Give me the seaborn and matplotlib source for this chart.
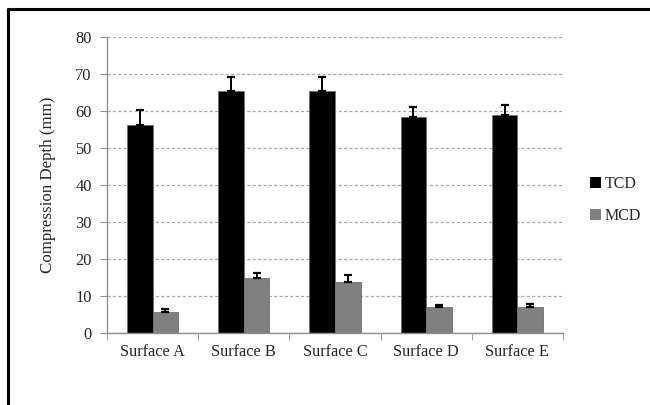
import matplotlib
matplotlib.use('Agg')
import matplotlib.pyplot as plt
from matplotlib.lines import Line2D
from matplotlib.patches import Patch
import numpy as np
import pandas as pd
import seaborn as sns

surfaces = ['Surface A', 'Surface B', 'Surface C', 'Surface D', 'Surface E']
tcd_mean = [56.3, 65.4, 65.4, 58.3, 58.8]
tcd_err = [3.9, 3.8, 3.8, 2.8, 2.8]
mcd_mean = [5.8, 14.9, 13.9, 6.9, 6.9]
mcd_err = [0.6, 1.4, 1.7, 0.8, 1.0]
series = ['TCD', 'MCD']
colors = {'TCD': '#000000', 'MCD': '#808080'}

df = pd.DataFrame({
    'surface': surfaces * 2,
    'series': ['TCD'] * 5 + ['MCD'] * 5,
    'depth': tcd_mean + mcd_mean,
    'err': tcd_err + mcd_err,
})

sns.set_style('white')
plt.rcParams['font.family'] = ['Liberation Serif', 'DejaVu Serif']

fig = plt.figure(figsize=(6.5, 4.05), dpi=100)
ax = fig.add_axes([0.1646, 0.1778, 0.7015, 0.7308])

sns.barplot(data=df, x='surface', y='depth', hue='series', hue_order=series,
            palette=colors, width=0.56, errorbar=None, edgecolor='#707070',
            linewidth=0.6, legend=False, ax=ax)

# error bars (upper half only) placed on the drawn bars
for container, name in zip(ax.containers, series):
    sub = df[df['series'] == name]
    xs = [p.get_x() + p.get_width() / 2 for p in container.patches]
    ax.errorbar(xs, sub['depth'].values, yerr=[np.zeros(len(xs)), sub['err'].values],
                fmt='none', ecolor='black', elinewidth=1.4, capsize=3.2, capthick=1.6, zorder=5)

ax.set_ylim(0, 80)
ax.set_xlim(-0.5, 4.5)
ax.set_yticks(range(0, 81, 10))
ax.yaxis.grid(True, linestyle=(0, (2.5, 1.8)), color='#a8a8a8', linewidth=0.9)
ax.set_axisbelow(True)
ax.set_xlabel('')
ax.set_ylabel('Compression Depth (mm)', fontsize=12.2, labelpad=14)

for s in ['top', 'right']:
    ax.spines[s].set_visible(False)
for s in ['left', 'bottom']:
    ax.spines[s].set_color('#909090')
    ax.spines[s].set_linewidth(1.0)

ax.set_xticks(np.arange(-0.5, 4.6, 1.0), minor=True)
ax.tick_params(axis='x', which='major', length=0, labelsize=11.8, pad=8)
ax.tick_params(axis='x', which='minor', length=5, color='#909090', direction='out')
ax.tick_params(axis='y', length=5, color='#909090', direction='out', labelsize=11.8, pad=6)
ax.tick_params(axis='both', which='both', bottom=True, left=True)

handles = [Patch(facecolor=colors[n], edgecolor='none', label=n) for n in series]
fig.legend(handles=handles, loc='upper left', bbox_to_anchor=(0.895, 0.585),
           frameon=False, fontsize=11.5, handlelength=0.7, handleheight=0.7,
           handletextpad=0.25, labelspacing=1.0, borderpad=0)

# chart border (top and left edges visible)
fig.add_artist(Line2D([0.0123, 1.0], [0.977, 0.977], color='black', linewidth=2.2,
                      transform=fig.transFigure))
fig.add_artist(Line2D([0.0123, 0.0123], [0.0, 0.977], color='black', linewidth=2.2,
                      transform=fig.transFigure))

fig.savefig('out.png', dpi=100)
